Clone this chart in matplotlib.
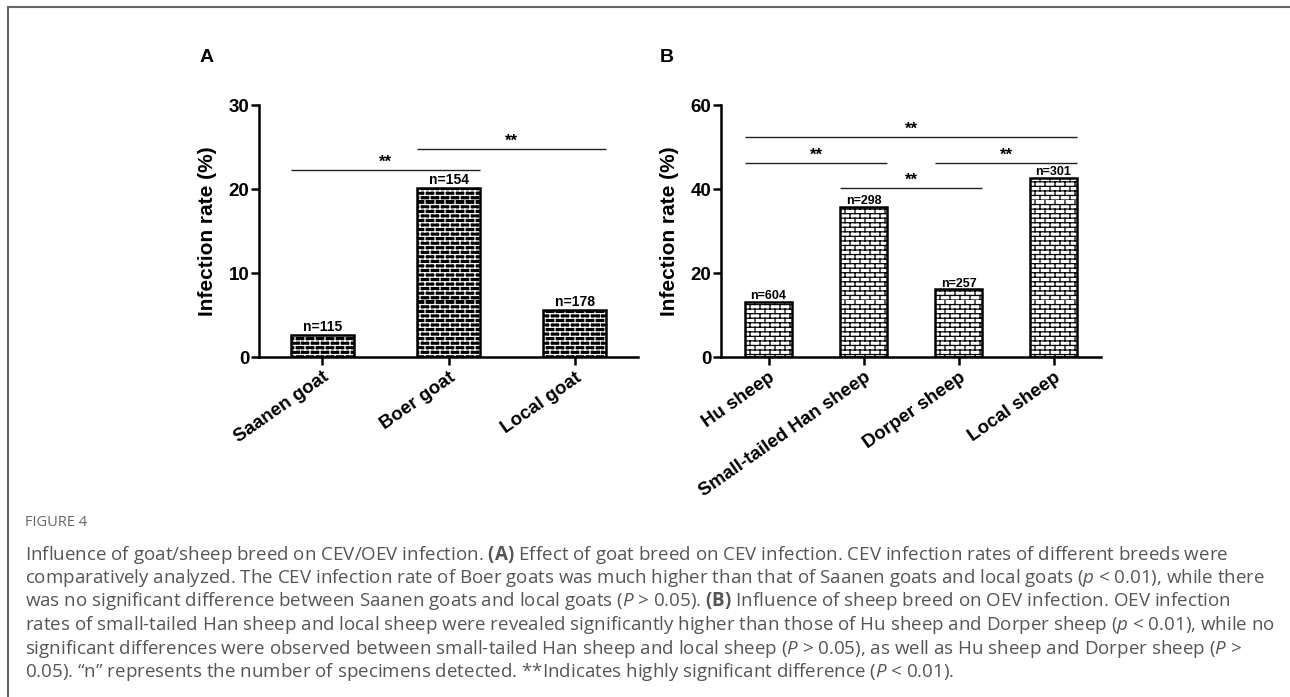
import warnings
warnings.filterwarnings("ignore")
import numpy as np
import matplotlib
matplotlib.use("Agg")
import matplotlib.pyplot as plt
import matplotlib.hatch as mhatch
from matplotlib.path import Path
from matplotlib.lines import Line2D

# ---------------- data ----------------
goat_breeds = ["Saanen goat", "Boer goat", "Local goat"]
goat_rates = [2.6, 20.1, 5.6]
goat_n = [115, 154, 178]
goat_sig_pairs = [(0, 1), (1, 2)]
goat_sig_heights = [22.3, 24.8]
goat_yticks = [0, 10, 20, 30]

sheep_breeds = ["Hu sheep", "Small-tailed Han sheep", "Dorper sheep", "Local sheep"]
sheep_rates = [13.2, 35.8, 16.1, 42.7]
sheep_n = [604, 298, 257, 301]
sheep_sig_pairs = [(0, 3), (0, 1), (2, 3), (1, 2)]
sheep_sig_heights = [52.5, 46.3, 46.3, 40.3]
sheep_yticks = [0, 20, 40, 60]

ylabel = "Infection rate (%)"
sig_text = "**"
caption_title = "FIGURE 4"
caption_lines = [
    r"Influence of goat/sheep breed on CEV/OEV infection. $\mathbf{(A)}$ Effect of goat breed on CEV infection. CEV infection rates of different breeds were",
    r"comparatively analyzed. The CEV infection rate of Boer goats was much higher than that of Saanen goats and local goats ($p$ < 0.01), while there",
    r"was no significant difference between Saanen goats and local goats ($P$ > 0.05). $\mathbf{(B)}$ Influence of sheep breed on OEV infection. OEV infection",
    r"rates of small-tailed Han sheep and local sheep were revealed significantly higher than those of Hu sheep and Dorper sheep ($p$ < 0.01), while no",
    r"significant differences were observed between small-tailed Han sheep and local sheep ($P$ > 0.05), as well as Hu sheep and Dorper sheep ($P$ >",
    "0.05). \u201cn\u201d represents the number of specimens detected. **Indicates highly significant difference ($P$ < 0.01).",
]


# ---------------- brick hatch ----------------
class BrickHatch(mhatch.HatchPatternBase):
    def __init__(self, hatch, density):
        self.on = hatch.count('b') > 0
        self.rows = 22
        self.cols = 10
        if self.on:
            self.num_vertices = 2 * self.rows + 2 * self.rows * self.cols
        else:
            self.num_vertices = 0

    def set_vertices_and_codes(self, vertices, codes):
        R, C = self.rows, self.cols
        i = 0
        for r in range(R):
            y = r / R
            vertices[i] = (0.0, y); codes[i] = Path.MOVETO; i += 1
            vertices[i] = (1.0, y); codes[i] = Path.LINETO; i += 1
        for r in range(R):
            y0, y1 = r / R, (r + 1) / R
            off = 0.5 * (r % 2)
            for k in range(C):
                x = (k + off) / C
                vertices[i] = (x, y0); codes[i] = Path.MOVETO; i += 1
                vertices[i] = (x, y1); codes[i] = Path.LINETO; i += 1


mhatch._hatch_types = [BrickHatch]

plt.rcParams['font.family'] = ['Liberation Sans', 'DejaVu Sans']
plt.rcParams['font.weight'] = 'bold'
plt.rcParams['hatch.linewidth'] = 0.9
plt.rcParams['mathtext.fontset'] = 'custom'
plt.rcParams['mathtext.rm'] = 'Open Sans:weight=normal'
plt.rcParams['mathtext.it'] = 'Open Sans:style=italic:weight=normal'
plt.rcParams['mathtext.bf'] = 'Open Sans:weight=bold'

W, H = 1290, 697
fig = plt.figure(figsize=(W / 100, H / 100), dpi=100)

axA = fig.add_axes([259 / W, 1 - 357 / H, 379 / W, 252 / H])
axB = fig.add_axes([721 / W, 1 - 357 / H, 380 / W, 252 / H])

bar_w = 0.5


def style_axis(ax, yticks, ncat, labels):
    for s in ['top', 'right']:
        ax.spines[s].set_visible(False)
    for s in ['left', 'bottom']:
        ax.spines[s].set_linewidth(1.8)
    ax.set_xlim(-0.5, ncat - 0.5)
    ax.set_ylim(yticks[0], yticks[-1])
    ax.set_yticks(yticks)
    ax.set_yticklabels([str(t) for t in yticks], fontsize=13.5, fontweight='bold')
    ax.tick_params(axis='both', length=5.5, width=1.8, pad=1.5)
    ax.set_xticks(np.arange(ncat))
    ax.set_xticklabels(labels, rotation=35, ha='right', rotation_mode='anchor',
                       fontsize=13.5, fontweight='bold')
    ax.tick_params(axis='x', pad=3)
    ax.set_ylabel(ylabel, fontsize=15, fontweight='bold', labelpad=8)


def add_sig(ax, pairs, heights):
    for (i, j), h in zip(pairs, heights):
        x0 = i - bar_w / 2
        x1 = j + bar_w / 2
        ax.plot([x0, x1], [h, h], color='#222222', lw=1.0, solid_capstyle='butt')
        ax.annotate(sig_text, xy=((x0 + x1) / 2, h), xytext=(0, 2.2),
                    textcoords='offset points', ha='center', va='baseline',
                    fontsize=12, fontweight='bold')


# Panel A
xa = np.arange(len(goat_breeds))
axA.bar(xa, goat_rates, width=bar_w, facecolor='black', edgecolor='white',
        linewidth=0, hatch='b', zorder=2)
axA.bar(xa, goat_rates, width=bar_w, facecolor='none', edgecolor='black',
        linewidth=1.8, zorder=3)
for x, v, n in zip(xa, goat_rates, goat_n):
    axA.annotate(f"n={n}", xy=(x, v), xytext=(0, 3), textcoords='offset points',
                 ha='center', va='baseline', fontsize=10, fontweight='bold')
style_axis(axA, goat_yticks, len(goat_breeds), goat_breeds)
add_sig(axA, goat_sig_pairs, goat_sig_heights)

# Panel B
xb = np.arange(len(sheep_breeds))
axB.bar(xb, sheep_rates, width=bar_w, facecolor='white', edgecolor='black',
        linewidth=1.8, hatch='b', zorder=2)
for x, v, n in zip(xb, sheep_rates, sheep_n):
    axB.annotate(f"n={n}", xy=(x, v), xytext=(0, 2), textcoords='offset points',
                 ha='center', va='baseline', fontsize=9, fontweight='bold')
style_axis(axB, sheep_yticks, len(sheep_breeds), sheep_breeds)
add_sig(axB, sheep_sig_pairs, sheep_sig_heights)

# panel letters
fig.text(207 / W, 1 - 57 / H, "A", fontsize=14, fontweight='bold', ha='center', va='center')
fig.text(667 / W, 1 - 57 / H, "B", fontsize=14, fontweight='bold', ha='center', va='center')

# frame lines
fig.add_artist(Line2D([7.5 / W, 7.5 / W], [0, 1 - 7 / H], transform=fig.transFigure,
                      color='#666666', lw=1.5))
fig.add_artist(Line2D([7.5 / W, 1], [1 - 7 / H, 1 - 7 / H], transform=fig.transFigure,
                      color='#666666', lw=1.5))

# caption
fig.text(25 / W, 1 - 522 / H, caption_title, fontsize=10.5, color='#666666',
         family='Open Sans', fontweight='normal', va='center', ha='left')
line_y = [554.5, 578, 601.5, 625, 648.5, 672]
cap_texts = []
for txt, y in zip(caption_lines, line_y):
    t = fig.text(25 / W, 1 - y / H, txt, fontsize=11.3, color='#555555',
                 family='Open Sans', fontweight='normal', va='center', ha='left')
    cap_texts.append(t)

# fit caption width so the first line spans like the reference
renderer = fig.canvas.get_renderer()
w0 = cap_texts[0].get_window_extent(renderer).width
scale = 1212.0 / w0
for t in cap_texts:
    t.set_fontsize(11.3 * scale)

fig.savefig("out.png", dpi=100)
